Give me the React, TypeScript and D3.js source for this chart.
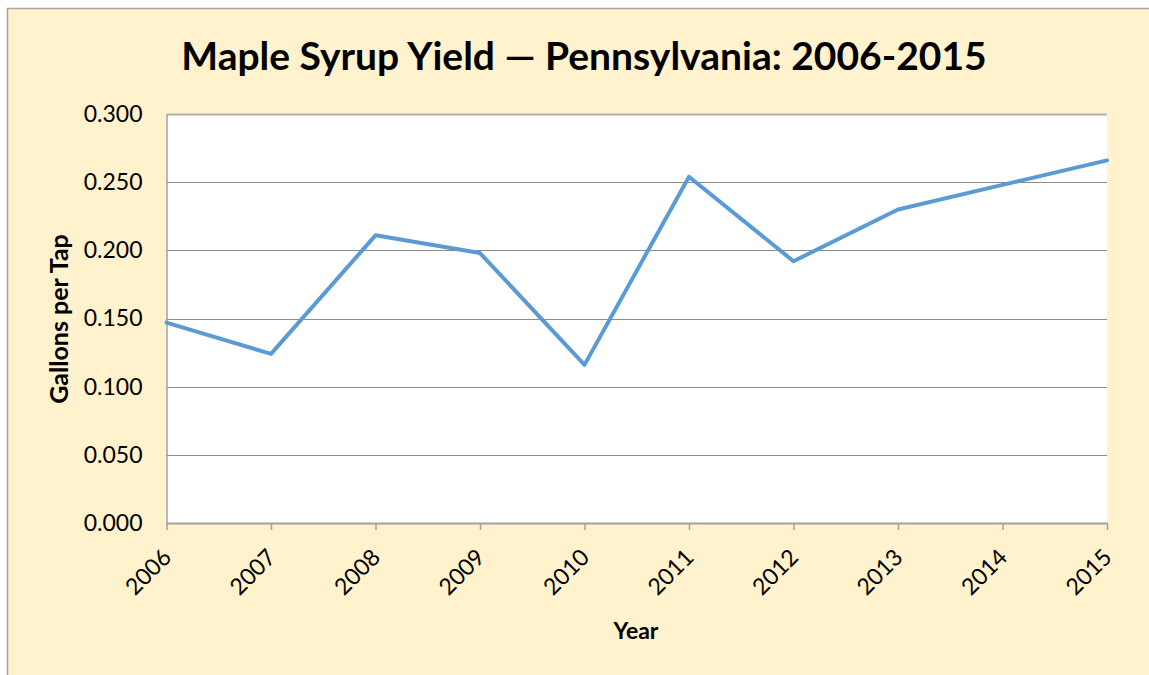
import React, { useRef, useEffect } from 'react';
import * as d3 from 'd3';

const years = ['2006', '2007', '2008', '2009', '2010', '2011', '2012', '2013', '2014', '2015'];
const gallonsPerTap = [0.147, 0.124, 0.211, 0.198, 0.116, 0.254, 0.192, 0.230, 0.248, 0.266];
const yTicks = [0, 0.05, 0.1, 0.15, 0.2, 0.25, 0.3];

const FONT = 'Lato, "Open Sans", sans-serif';

const App: React.FC = () => {
  const ref = useRef<SVGSVGElement | null>(null);

  useEffect(() => {
    const width = 1149;
    const height = 675;
    const m = { top: 114, right: 42, bottom: 152, left: 166.5 };
    const iw = width - m.left - m.right;
    const ih = height - m.top - m.bottom;

    const svg = d3.select(ref.current);
    svg.selectAll('*').remove();
    svg.attr('width', width).attr('height', height);

    // outer chart area
    svg.append('rect')
      .attr('x', 7.5).attr('y', 8.5)
      .attr('width', width).attr('height', height)
      .attr('fill', '#fff2cc')
      .attr('stroke', '#a6a6a6')
      .attr('stroke-width', 1.5);

    svg.append('text')
      .attr('x', 584).attr('y', 70)
      .attr('text-anchor', 'middle')
      .attr('font-family', FONT)
      .attr('font-weight', 'bold')
      .attr('font-size', 39)
      .text('Maple Syrup Yield — Pennsylvania: 2006-2015');

    const g = svg.append('g').attr('transform', `translate(${m.left},${m.top})`);

    g.append('rect').attr('width', iw).attr('height', ih).attr('fill', '#fff');

    const x = d3.scalePoint<string>().domain(years).range([0, iw]).padding(0);
    const y = d3.scaleLinear().domain([0, 0.3]).range([ih, 0]);

    // gridlines
    g.selectAll('line.grid')
      .data(yTicks.slice(1))
      .join('line')
      .attr('class', 'grid')
      .attr('x1', 0).attr('x2', iw)
      .attr('y1', (d) => Math.round(y(d)) + 0.5)
      .attr('y2', (d) => Math.round(y(d)) + 0.5)
      .attr('stroke', (d) => (d === 0.3 ? '#b0b0b0' : '#8c8c8c'))
      .attr('stroke-width', (d) => (d === 0.3 ? 2 : 1.2));

    // y axis
    const yAxis = g.append('g').call(
      d3.axisLeft(y).tickValues(yTicks).tickFormat(d3.format('.3f')).tickSize(0).tickPadding(24)
    );
    yAxis.select('.domain').attr('stroke', '#a0a0a0').attr('stroke-width', 1.5);
    yAxis.selectAll('text')
      .attr('font-family', FONT)
      .attr('font-size', 23)
      .attr('fill', '#000');

    // x axis
    const xAxis = g.append('g')
      .attr('transform', `translate(0,${ih})`)
      .call(d3.axisBottom(x).tickSizeInner(7).tickSizeOuter(0));
    xAxis.select('.domain').attr('stroke', '#a0a0a0').attr('stroke-width', 2);
    xAxis.selectAll('.tick line').attr('stroke', '#a0a0a0').attr('stroke-width', 1.5);
    xAxis.selectAll('text')
      .attr('font-family', FONT)
      .attr('font-size', 23)
      .attr('fill', '#000')
      .attr('text-anchor', 'end')
      .attr('x', 0).attr('y', 0)
      .attr('dy', '0.35em')
      .attr('transform', 'translate(0,30) rotate(-45)');

    const line = d3.line<number>()
      .x((_, i) => x(years[i]) as number)
      .y((d) => y(d));

    g.append('path')
      .datum(gallonsPerTap)
      .attr('fill', 'none')
      .attr('stroke', '#5b9bd5')
      .attr('stroke-width', 4)
      .attr('stroke-linejoin', 'round')
      .attr('stroke-linecap', 'round')
      .attr('d', line);

    svg.append('text')
      .attr('x', 636).attr('y', 639)
      .attr('text-anchor', 'middle')
      .attr('font-family', FONT)
      .attr('font-weight', 'bold')
      .attr('font-size', 23)
      .text('Year');

    svg.append('text')
      .attr('transform', 'translate(68,319) rotate(-90)')
      .attr('text-anchor', 'middle')
      .attr('font-family', FONT)
      .attr('font-weight', 'bold')
      .attr('font-size', 25)
      .text('Gallons per Tap');
  }, []);

  return <svg ref={ref} style={{ position: 'absolute', left: 0, top: 0 }} />;
};

export default App;
